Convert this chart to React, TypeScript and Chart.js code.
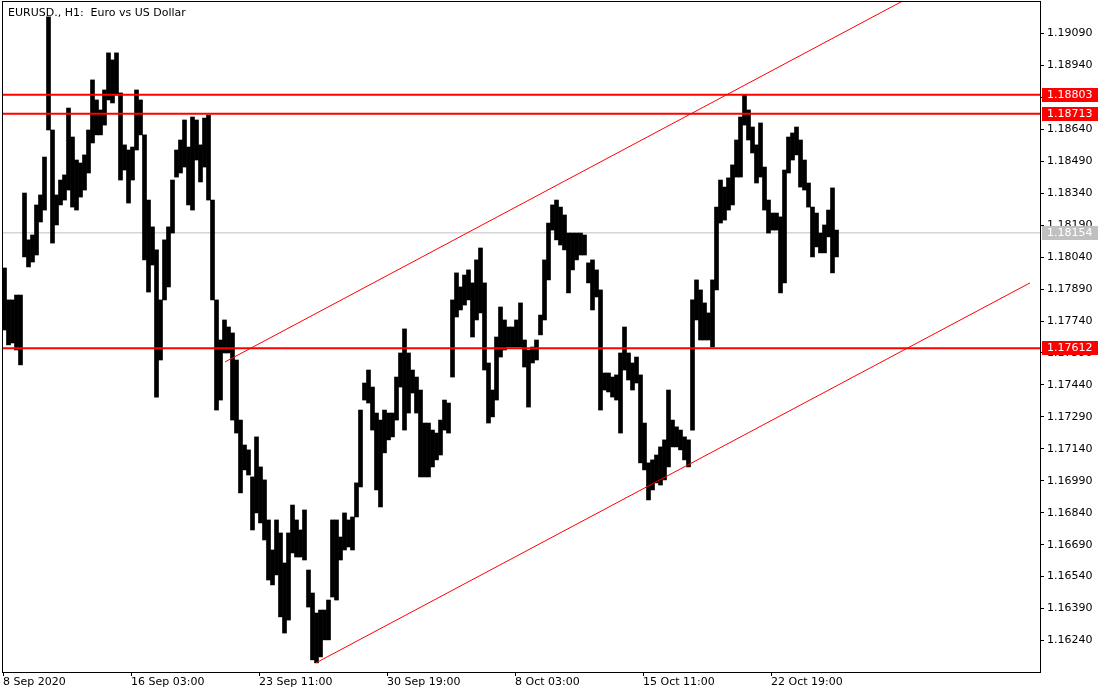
import React, { useEffect, useRef } from "react";
import { Chart, registerables } from "chart.js";

Chart.register(...registerables);

// EURUSD H1, grouped in samples of 4 hourly bars: high / low of each sample
const highs = [
  1.17989, 1.17839, 1.17839, 1.17862, 1.17862, 1.18341, 1.18121, 1.18144, 1.18285, 1.18332,
  1.18510, 1.19168, 1.18637, 1.18332, 1.18402, 1.18426, 1.18740, 1.18604, 1.18496, 1.18482,
  1.18520, 1.18637, 1.18872, 1.18778, 1.18731, 1.18825, 1.18999, 1.18966, 1.18999, 1.18811,
  1.18567, 1.18543, 1.18557, 1.18825, 1.18778, 1.18614, 1.18308, 1.18182, 1.18074, 1.17839,
  1.18121, 1.18182, 1.18402, 1.18543, 1.18590, 1.18684, 1.18557, 1.18698, 1.18684, 1.18567,
  1.18693, 1.18707, 1.18308, 1.17839, 1.17651, 1.17745, 1.17712, 1.17684, 1.17557, 1.17275,
  1.17158, 1.17135, 1.17008, 1.17196, 1.17055, 1.16994, 1.16806, 1.16665, 1.16806, 1.16745,
  1.16604, 1.16745, 1.16876, 1.16806, 1.16759, 1.16853, 1.16571, 1.16463, 1.16369, 1.16383,
  1.16383, 1.16430, 1.16806, 1.16806, 1.16726, 1.16839, 1.16806, 1.16820, 1.16980, 1.17322,
  1.17449, 1.17510, 1.17430, 1.17308, 1.17275, 1.17322, 1.17308, 1.17308, 1.17477, 1.17590,
  1.17703, 1.17590, 1.17510, 1.17477, 1.17416, 1.17261, 1.17261, 1.17228, 1.17214, 1.17275,
  1.17369, 1.17355, 1.17839, 1.17966, 1.17900, 1.17956, 1.17980, 1.17919, 1.18027, 1.18083,
  1.17919, 1.17543, 1.17416, 1.17665, 1.17806, 1.17745, 1.17712, 1.17712, 1.17745, 1.17825,
  1.17651, 1.17604, 1.17618, 1.17651, 1.17768, 1.18027, 1.18200, 1.18285, 1.18308, 1.18275,
  1.18238, 1.18153, 1.18153, 1.18153, 1.18153, 1.18144, 1.18013, 1.18027, 1.17980, 1.17886,
  1.17496, 1.17496, 1.17477, 1.17487, 1.17590, 1.17712, 1.17590, 1.17543, 1.17571, 1.17487,
  1.17261, 1.17074, 1.17088, 1.17111, 1.17149, 1.17182, 1.17416, 1.17275, 1.17243, 1.17228,
  1.17196, 1.17182, 1.17839, 1.17933, 1.17886, 1.17825, 1.17778, 1.17933, 1.18275, 1.18402,
  1.18369, 1.18412, 1.18473, 1.18590, 1.18698, 1.18801, 1.18731, 1.18651, 1.18567, 1.18670,
  1.18463, 1.18308, 1.18247, 1.18247, 1.18229, 1.18449, 1.18604, 1.18623, 1.18651, 1.18590,
  1.18496, 1.18388, 1.18275, 1.18247, 1.18153, 1.18191, 1.18261, 1.18365, 1.18167,
];

const lows = [
  1.17698, 1.17628, 1.17637, 1.17604, 1.17534, 1.18041, 1.17994, 1.18017, 1.18050, 1.18205,
  1.18261, 1.18637, 1.18106, 1.18191, 1.18285, 1.18308, 1.18355, 1.18275, 1.18261, 1.18322,
  1.18355, 1.18435, 1.18576, 1.18614, 1.18614, 1.18660, 1.18778, 1.18764, 1.18801, 1.18402,
  1.18449, 1.18294, 1.18402, 1.18543, 1.18614, 1.18027, 1.17876, 1.18003, 1.17383, 1.17557,
  1.17839, 1.17900, 1.18153, 1.18416, 1.18435, 1.18463, 1.18285, 1.18261, 1.18496, 1.18393,
  1.18463, 1.18308, 1.17839, 1.17322, 1.17369, 1.17590, 1.17590, 1.17275, 1.17214, 1.16933,
  1.17041, 1.17017, 1.16759, 1.16839, 1.16792, 1.16712, 1.16524, 1.16501, 1.16548, 1.16351,
  1.16275, 1.16336, 1.16651, 1.16632, 1.16632, 1.16618, 1.16397, 1.16149, 1.16135, 1.16163,
  1.16243, 1.16243, 1.16444, 1.16430, 1.16618, 1.16665, 1.16679, 1.16665, 1.16820, 1.16961,
  1.17369, 1.17355, 1.17228, 1.16947, 1.16867, 1.17121, 1.17182, 1.17196, 1.17275, 1.17430,
  1.17228, 1.17308, 1.17402, 1.17308, 1.17008, 1.17008, 1.17008, 1.17055, 1.17088, 1.17111,
  1.17228, 1.17214, 1.17477, 1.17759, 1.17792, 1.17815, 1.17839, 1.17665, 1.17745, 1.17778,
  1.17510, 1.17261, 1.17290, 1.17369, 1.17571, 1.17604, 1.17618, 1.17618, 1.17618, 1.17618,
  1.17524, 1.17336, 1.17543, 1.17557, 1.17675, 1.17745, 1.17933, 1.18167, 1.18121, 1.18097,
  1.18074, 1.17872, 1.17980, 1.18027, 1.18050, 1.18050, 1.17919, 1.17792, 1.17853, 1.17322,
  1.17416, 1.17407, 1.17383, 1.17369, 1.17214, 1.17510, 1.17463, 1.17416, 1.17449, 1.17074,
  1.17041, 1.16900, 1.16947, 1.16980, 1.16970, 1.16994, 1.17055, 1.17149, 1.17149, 1.17135,
  1.17088, 1.17055, 1.17228, 1.17745, 1.17651, 1.17651, 1.17651, 1.17618, 1.17886, 1.18200,
  1.18214, 1.18261, 1.18285, 1.18416, 1.18416, 1.18660, 1.18590, 1.18529, 1.18388, 1.18416,
  1.18261, 1.18153, 1.18167, 1.18167, 1.17872, 1.17919, 1.18435, 1.18496, 1.18520, 1.18369,
  1.18355, 1.18275, 1.18041, 1.18088, 1.18060, 1.18060, 1.18135, 1.17966, 1.18041,
];

const barsPerSample = 4;

const xTickBars = [0, 128, 256, 384, 512, 640, 768];
const xTickLabels = [
  "8 Sep 2020",
  "16 Sep 03:00",
  "23 Sep 11:00",
  "30 Sep 19:00",
  "8 Oct 03:00",
  "15 Oct 11:00",
  "22 Oct 19:00",
];

const yTicks = [
  1.1624, 1.1639, 1.1654, 1.1669, 1.1684, 1.1699, 1.1714, 1.1729, 1.1744, 1.1759,
  1.1774, 1.1789, 1.1804, 1.1819, 1.1834, 1.1849, 1.1864, 1.1879, 1.1894, 1.1909,
];

const levels = [1.18803, 1.18713, 1.17612];
const bidLevel = 1.18154;

const upperChannel = [
  { bar: 222, price: 1.17548 },
  { bar: 1035, price: 1.19581 },
];
const lowerChannel = [
  { bar: 313, price: 1.16135 },
  { bar: 1027, price: 1.17919 },
];

const xMin = -1;
const xMax = 1037;
const yMin = 1.160921;
const yMax = 1.192426;

const title = "EURUSD., H1:  Euro vs US Dollar";
const FONT = '"DejaVu Sans", sans-serif';

export default function App() {
  const ref = useRef<HTMLCanvasElement | null>(null);

  useEffect(() => {
    if (!ref.current) return;

    const overlay = {
      id: "overlay",
      afterDraw(chart: any) {
        const { ctx, chartArea, scales } = chart;
        const { left, top, right, bottom } = chartArea;
        const y = scales.y;
        ctx.save();
        // frame
        ctx.strokeStyle = "#000";
        ctx.lineWidth = 1;
        ctx.strokeRect(left + 0.5, top + 0.5, right - left, bottom - top);
        // title
        ctx.fillStyle = "#000";
        ctx.font = "11px " + FONT;
        ctx.textBaseline = "alphabetic";
        ctx.textAlign = "left";
        ctx.fillText(title, 8, 16);
        // price labels
        const drawLabel = (v: number, bg: string) => {
          const py = Math.round(y.getPixelForValue(v));
          ctx.fillStyle = bg;
          ctx.fillRect(right + 2, py - 7, 56, 14);
          ctx.fillStyle = "#fff";
          ctx.textBaseline = "middle";
          ctx.fillText(v.toFixed(5), right + 7, py + 0.5);
        };
        drawLabel(bidLevel, "#c0c0c0");
        levels.forEach((v) => drawLabel(v, "#ff0000"));
        ctx.restore();
      },
    };

    const hline = (v: number, color: string, width: number, order: number) => ({
      type: "line",
      data: [
        { x: xMin, y: v },
        { x: xMax, y: v },
      ],
      borderColor: color,
      borderWidth: width,
      pointRadius: 0,
      order,
    });

    const chart = new Chart(ref.current, {
      type: "bar",
      data: {
        datasets: [
          hline(bidLevel, "#c0c0c0", 1, 10) as any,
          {
            type: "bar",
            data: highs.map((h, i) => ({
              x: i * barsPerSample + (barsPerSample - 1) / 2,
              y: [lows[i], h],
            })),
            backgroundColor: "#000",
            borderWidth: 0,
            barThickness: 4,
            order: 5,
          } as any,
          ...levels.map((v) => hline(v, "#ff0000", 2, 1) as any),
          {
            type: "line",
            data: upperChannel.map((p) => ({ x: p.bar, y: p.price })),
            borderColor: "#ff0000",
            borderWidth: 1,
            pointRadius: 0,
            order: 2,
          } as any,
          {
            type: "line",
            data: lowerChannel.map((p) => ({ x: p.bar, y: p.price })),
            borderColor: "#ff0000",
            borderWidth: 1,
            pointRadius: 0,
            order: 2,
          } as any,
        ],
      },
      options: {
        animation: false,
        responsive: false,
        events: [],
        layout: { padding: { left: 2, top: 1, right: 0, bottom: 0 } },
        plugins: {
          legend: { display: false },
          tooltip: { enabled: false },
          title: { display: false },
        },
        scales: {
          x: {
            type: "linear",
            min: xMin,
            max: xMax,
            offset: false,
            grid: {
              offset: false,
              drawOnChartArea: false,
              drawTicks: true,
              tickLength: 4,
              color: "#000",
            },
            border: { display: false },
            afterBuildTicks: (scale: any) => {
              scale.ticks = xTickBars.map((v) => ({ value: v }));
            },
            afterFit: (scale: any) => {
              scale.height = 22;
              scale.paddingLeft = 0;
              scale.paddingRight = 0;
            },
            ticks: {
              autoSkip: false,
              maxRotation: 0,
              align: "start",
              padding: 0,
              color: "#000",
              font: { family: FONT, size: 11 },
              callback: (v: any) => {
                const i = xTickBars.indexOf(Number(v));
                return i >= 0 ? xTickLabels[i] : "";
              },
            },
          },
          y: {
            type: "linear",
            position: "right",
            min: yMin,
            max: yMax,
            grid: {
              drawOnChartArea: false,
              drawTicks: true,
              tickLength: 4,
              color: "#000",
            },
            border: { display: false },
            afterBuildTicks: (scale: any) => {
              scale.ticks = yTicks.map((v) => ({ value: v }));
            },
            afterFit: (scale: any) => {
              scale.width = 70;
              scale.paddingTop = 0;
              scale.paddingBottom = 0;
            },
            ticks: {
              autoSkip: false,
              padding: 3,
              color: "#000",
              font: { family: FONT, size: 11 },
              callback: (v: any) => Number(v).toFixed(5),
            },
          },
        },
      } as any,
      plugins: [overlay],
    });

    return () => chart.destroy();
  }, []);

  return (
    <div style={{ position: "absolute", left: 0, top: 0, width: 1110, height: 694, background: "#fff" }}>
      <canvas ref={ref} width={1110} height={694} style={{ display: "block" }} />
    </div>
  );
}
